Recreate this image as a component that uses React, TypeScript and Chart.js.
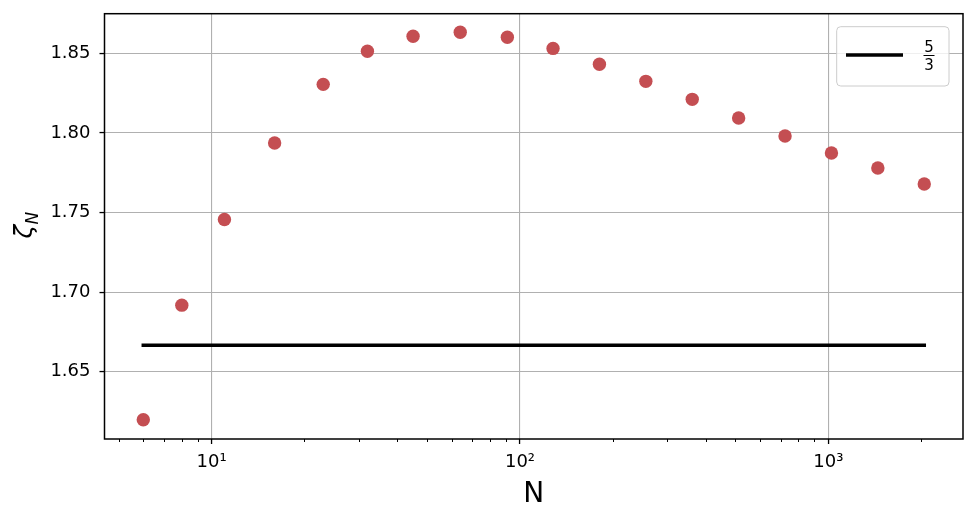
import React, { useEffect, useRef } from "react";
import { Chart, registerables } from "chart.js";

Chart.register(...registerables);

// ---- data ----
const N = [6, 8, 11, 16, 23, 32, 45, 64, 91, 128, 181, 256, 362, 512, 724, 1024, 1448, 2048];
const zeta = [
  1.6198, 1.6918, 1.7456, 1.7937, 1.8305, 1.8513, 1.8607, 1.8632, 1.8601,
  1.8531, 1.8431, 1.8324, 1.8211, 1.8094, 1.7981, 1.7874, 1.778, 1.7679,
];
const refLineN = [6, 2048];
const refValue = 5 / 3;
const refLabel = "5/3";
const yTicks = [1.65, 1.7, 1.75, 1.8, 1.85];
const xMajorTicks = [10, 100, 1000];
const xMajorLabels = ["10\u00b9", "10\u00b2", "10\u00b3"];
const xMinorTicks = [5, 6, 7, 8, 9, 20, 30, 40, 50, 60, 70, 80, 90, 200, 300, 400, 500, 600, 700, 800, 900, 2000];

const FONT = "'DejaVu Sans', 'Liberation Sans', sans-serif";

const decorPlugin = {
  id: "decor",
  afterDraw(chart: any) {
    const ctx = chart.ctx as CanvasRenderingContext2D;
    const a = chart.chartArea;
    const xs = chart.scales.x;
    ctx.save();
    // minor ticks
    ctx.strokeStyle = "#000";
    ctx.lineWidth = 1;
    for (const v of xMinorTicks) {
      const px = Math.round(xs.getPixelForValue(v)) + 0.5;
      ctx.beginPath();
      ctx.moveTo(px, a.bottom);
      ctx.lineTo(px, a.bottom + 3);
      ctx.stroke();
    }
    // frame
    ctx.lineWidth = 1.5;
    ctx.strokeRect(a.left, a.top, a.right - a.left, a.bottom - a.top);

    // y title: zeta_N
    ctx.rotate(-Math.PI / 2);
    ctx.fillStyle = "#000";
    ctx.textAlign = "left";
    ctx.textBaseline = "alphabetic";
    ctx.font = `italic 25px ${FONT}`;
    const start = -238.5;
    ctx.fillText("\u03b6", start, 32);
    const w = ctx.measureText("\u03b6").width;
    ctx.font = `italic 17px ${FONT}`;
    ctx.fillText("N", start + w + 0.5, 38.3);
    ctx.setTransform(1, 0, 0, 1, 0, 0);

    // legend
    const lx = 836.7, ly = 26.7, lw = 112.3, lh = 59.3, r = 4;
    ctx.beginPath();
    ctx.moveTo(lx + r, ly);
    ctx.lineTo(lx + lw - r, ly);
    ctx.arcTo(lx + lw, ly, lx + lw, ly + r, r);
    ctx.lineTo(lx + lw, ly + lh - r);
    ctx.arcTo(lx + lw, ly + lh, lx + lw - r, ly + lh, r);
    ctx.lineTo(lx + r, ly + lh);
    ctx.arcTo(lx, ly + lh, lx, ly + lh - r, r);
    ctx.lineTo(lx, ly + r);
    ctx.arcTo(lx, ly, lx + r, ly, r);
    ctx.closePath();
    ctx.fillStyle = "rgba(255,255,255,0.8)";
    ctx.fill();
    ctx.strokeStyle = "#cccccc";
    ctx.lineWidth = 1;
    ctx.stroke();

    ctx.strokeStyle = "#000";
    ctx.lineWidth = 3.5;
    ctx.lineCap = "butt";
    ctx.beginPath();
    ctx.moveTo(846, 55);
    ctx.lineTo(903, 55);
    ctx.stroke();

    const [num, den] = refLabel.split("/");
    ctx.fillStyle = "#000";
    ctx.font = `15px ${FONT}`;
    ctx.textAlign = "center";
    ctx.textBaseline = "alphabetic";
    ctx.fillText(num, 929, 51.7);
    ctx.fillText(den, 929, 70);
    ctx.lineWidth = 1;
    ctx.beginPath();
    ctx.moveTo(923.5, 55.5);
    ctx.lineTo(934.5, 55.5);
    ctx.stroke();
    ctx.restore();
  },
};

export default function App() {
  const ref = useRef<HTMLCanvasElement>(null);
  useEffect(() => {
    const canvas = ref.current;
    if (!canvas) return;
    const chart = new Chart(canvas, {
      type: "scatter",
      data: {
        datasets: [
          {
            label: refLabel,
            data: refLineN.map((n) => ({ x: n, y: refValue })),
            showLine: true,
            borderColor: "#000",
            backgroundColor: "#000",
            borderWidth: 3.5,
            borderCapStyle: "square",
            pointRadius: 0,
            order: 1,
          },
          {
            label: "zeta",
            data: N.map((n, i) => ({ x: n, y: zeta[i] })),
            backgroundColor: "#c44e52",
            borderWidth: 0,
            pointRadius: 6.7,
            order: 2,
          },
        ],
      },
      options: {
        animation: false,
        responsive: false,
        devicePixelRatio: 1,
        layout: { padding: { top: 13.7, right: 14, left: 0, bottom: 0 } },
        plugins: { legend: { display: false }, tooltip: { enabled: false } },
        scales: {
          x: {
            type: "logarithmic",
            min: 4.491,
            max: 2735,
            afterBuildTicks: (s: any) => {
              s.ticks = [...xMajorTicks, ...xMinorTicks]
                .sort((p, q) => p - q)
                .map((v) => ({ value: v, major: xMajorTicks.includes(v) }));
            },
            afterFit: (s: any) => {
              s.height = 83;
              s.paddingLeft = 0;
              s.paddingRight = 0;
              s.paddingTop = 0;
              s.paddingBottom = 0;
            },
            ticks: {
              autoSkip: false,
              maxRotation: 0,
              padding: 8,
              color: "#000",
              font: { family: FONT, size: 18 },
              callback: (v: any) => {
                const i = xMajorTicks.indexOf(Number(v));
                return i >= 0 ? xMajorLabels[i] : "";
              },
            },
            grid: {
              color: (c: any) =>
                c.tick && xMajorTicks.includes(c.tick.value) ? "#b0b0b0" : "rgba(0,0,0,0)",
              tickColor: (c: any) =>
                c.tick && xMajorTicks.includes(c.tick.value) ? "#000" : "rgba(0,0,0,0)",
              lineWidth: 1.1,
              tickLength: 5,
              tickWidth: 1.3,
            },
            border: { display: false },
            title: {
              display: true,
              text: "N",
              color: "#000",
              font: { family: FONT, size: 28, lineHeight: 1.2 },
              padding: { top: 0, bottom: 10 },
            },
          },
          y: {
            type: "linear",
            min: 1.6077,
            max: 1.8749,
            afterBuildTicks: (s: any) => {
              s.ticks = yTicks.map((v) => ({ value: v }));
            },
            afterFit: (s: any) => {
              s.width = 104.5;
              s.paddingLeft = 0;
              s.paddingRight = 0;
              s.paddingTop = 0;
              s.paddingBottom = 0;
            },
            ticks: {
              padding: 9,
              color: "#000",
              font: { family: FONT, size: 18 },
              callback: (v: any) => Number(v).toFixed(2),
            },
            grid: {
              color: "#b0b0b0",
              tickColor: "#000",
              lineWidth: 1.1,
              tickLength: 5,
              tickWidth: 1.3,
            },
            border: { display: false },
          },
        },
      },
      plugins: [decorPlugin],
    } as any);
    return () => chart.destroy();
  }, []);
  return (
    <div style={{ position: "absolute", left: 0, top: 0, width: 977, height: 522, background: "#fff" }}>
      <canvas ref={ref} width={977} height={522} style={{ width: 977, height: 522, display: "block" }} />
    </div>
  );
}
